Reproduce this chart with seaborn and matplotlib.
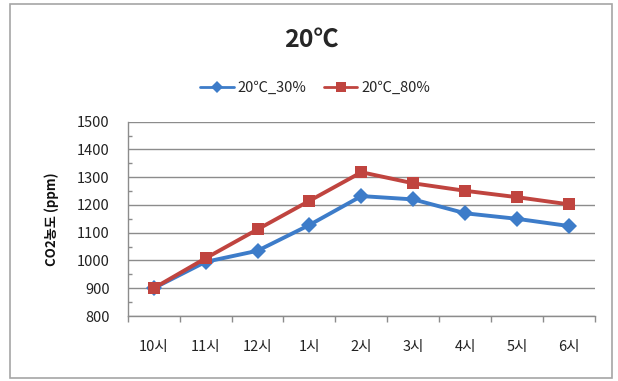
import matplotlib
matplotlib.use("Agg")
import matplotlib.pyplot as plt
from matplotlib.patches import Rectangle
from matplotlib.ticker import MultipleLocator
import seaborn as sns
import pandas as pd

# CO2 concentration over the day at 20℃ for two humidity levels
hours = ["10시", "11시", "12시", "1시", "2시", "3시", "4시", "5시", "6시"]
rh30 = [900, 995, 1035, 1128, 1232, 1220, 1170, 1150, 1124]
rh80 = [900, 1008, 1112, 1215, 1318, 1278, 1251, 1228, 1202]
series_names = ["20℃_30%", "20℃_80%"]
y_ticks = [800, 900, 1000, 1100, 1200, 1300, 1400, 1500]

sns.set_theme(style="white")
fonts = ["Noto Sans CJK KR", "DejaVu Sans"]
plt.rcParams["font.family"] = fonts

df = pd.DataFrame({
    "hour": hours * 2,
    "ppm": rh30 + rh80,
    "series": [series_names[0]] * len(hours) + [series_names[1]] * len(hours),
})

fig = plt.figure(figsize=(6.18, 3.81), dpi=100)
fig.patch.set_facecolor("white")
fig.add_artist(Rectangle((10 / 618, 3 / 381), 602 / 618, 374 / 381,
                         transform=fig.transFigure, fill=False,
                         edgecolor="#a6a6a6", linewidth=1.2))

ax = fig.add_axes([0.2066, 0.1706, 0.7564, 0.5100])
palette = {series_names[0]: "#3d7cc9", series_names[1]: "#c0443f"}
sns.lineplot(data=df, x="hour", y="ppm", hue="series", style="series",
             markers={series_names[0]: "D", series_names[1]: "s"},
             dashes=False, palette=palette, linewidth=2.8, markersize=8,
             markeredgewidth=0, sort=False, ax=ax, legend=True)

ax.set_xlim(-0.5, len(hours) - 0.5)
ax.set_ylim(800, 1500)
ax.set_yticks(y_ticks)
ax.yaxis.set_minor_locator(MultipleLocator(50))
ax.set_xticks(range(len(hours)))
ax.set_xticklabels(hours)
ax.set_xticks([i - 0.5 for i in range(len(hours) + 1)], minor=True)

ax.grid(axis="y", which="major", color="#8c8c8c", linewidth=1.0)
ax.set_axisbelow(True)
for side in ["top", "right"]:
    ax.spines[side].set_visible(False)
for side in ["left", "bottom"]:
    ax.spines[side].set_color("#8c8c8c")
    ax.spines[side].set_linewidth(1.0)

ax.tick_params(axis="y", which="major", length=0, pad=13, labelsize=10.5,
               labelcolor="#222222")
ax.tick_params(axis="y", which="minor", left=True, direction="in", length=3,
               color="#8c8c8c")
ax.tick_params(axis="x", which="major", length=0, pad=17, labelsize=10.5,
               labelcolor="#222222")
ax.tick_params(axis="x", which="minor", bottom=True, direction="out", length=4,
               color="#8c8c8c")
for lbl in ax.get_xticklabels() + ax.get_yticklabels():
    lbl.set_family(fonts)

ax.set_xlabel("")
ax.set_ylabel("CO2농도 (ppm)", fontsize=9.5, fontweight="bold", family=fonts,
              labelpad=13, color="#111111")

handles, labels = ax.get_legend_handles_labels()
for h in handles:
    h.set_linewidth(2.0)
    h.set_markersize(6.5)
ax.legend(handles, labels, loc="center", bbox_to_anchor=(315 / 618, 1 - 88 / 381),
          bbox_transform=fig.transFigure, ncol=2, frameon=False,
          prop={"family": fonts, "size": 10.5}, handlelength=2.3,
          columnspacing=1.2, handletextpad=0.25)

fig.text(311 / 618, 1 - 40 / 381, "20℃", ha="center", va="center",
         fontsize=18, fontweight="bold", family=fonts)

fig.savefig("out.png", dpi=100, facecolor="white")
